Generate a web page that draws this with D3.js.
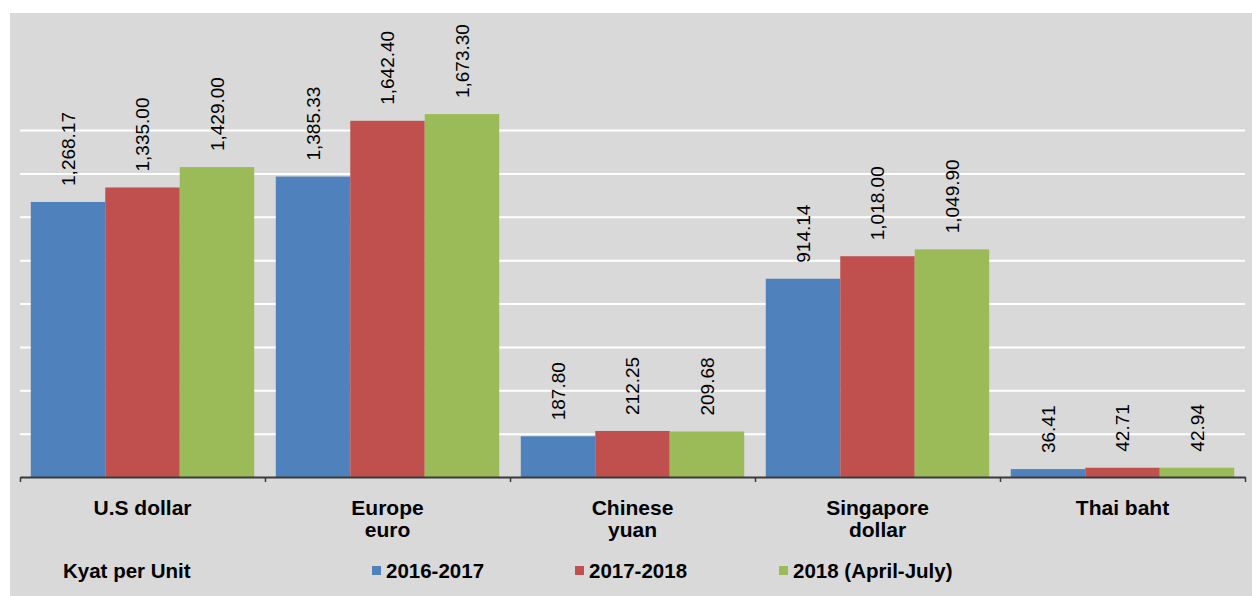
<!DOCTYPE html>
<html>
<head>
<meta charset="utf-8">
<script src="https://cdn.jsdelivr.net/npm/d3@7"></script>
<style>
  html, body { margin: 0; padding: 0; background: #ffffff; }
  svg { display: block; }
  text { font-family: "Liberation Sans", Arial, sans-serif; fill: #000; }
</style>
</head>
<body>
<svg id="chart" width="1252" height="596"></svg>
<script>
// ---- data ----
const categories = ["U.S dollar", "Europe\neuro", "Chinese\nyuan", "Singapore\ndollar", "Thai baht"];
const seriesNames = ["2016-2017", "2017-2018", "2018 (April-July)"];
const values2016_2017 = [1268.17, 1385.33, 187.80, 914.14, 36.41];
const values2017_2018 = [1335.00, 1642.40, 212.25, 1018.00, 42.71];
const values2018_AprJul = [1429.00, 1673.30, 209.68, 1049.90, 42.94];
const gridTicks = [200, 400, 600, 800, 1000, 1200, 1400, 1600];
const legendTitle = "Kyat per Unit";
const colors = ["#4f81bd", "#c0504d", "#9bbb59"];

const seriesValues = [values2016_2017, values2017_2018, values2018_AprJul];

const svg = d3.select("#chart");

// background panel
svg.append("rect").attr("x", 10).attr("y", 13).attr("width", 1242).attr("height", 583).attr("fill", "#d9d9d9");

const plotLeft = 20, plotRight = 1245, baseY = 477;

const x = d3.scaleBand().domain(categories).range([plotLeft, plotRight]).paddingInner(0).paddingOuter(0);
const x1 = d3.scaleBand().domain(seriesNames).range([0, x.bandwidth()]).paddingInner(0).paddingOuter(0.145);
const y = d3.scaleLinear().domain([0, 1600]).range([baseY, 130]);

// gridlines
const grid = svg.append("g").attr("transform", `translate(${plotLeft},0)`)
  .call(d3.axisLeft(y).tickValues(gridTicks).tickSize(-(plotRight - plotLeft)).tickFormat(""));
grid.select(".domain").remove();
grid.selectAll(".tick line").attr("stroke", "#ffffff").attr("stroke-width", 2);

// bars
const rows = categories.map((c, i) => ({ cat: c, vals: seriesNames.map((s, j) => ({ s, j, v: seriesValues[j][i] })) }));
const groups = svg.selectAll("g.cat").data(rows).join("g").attr("class", "cat")
  .attr("transform", d => `translate(${x(d.cat)},0)`);

groups.selectAll("rect").data(d => d.vals).join("rect")
  .attr("x", d => x1(d.s))
  .attr("y", d => y(d.v))
  .attr("width", x1.bandwidth())
  .attr("height", d => y(0) - y(d.v))
  .attr("fill", d => colors[d.j]);

const fmt = d3.format(",.2f");
groups.selectAll("text.val").data(d => d.vals).join("text").attr("class", "val")
  .attr("transform", d => `translate(${x1(d.s) + x1.bandwidth() / 2},${y(d.v) - 16}) rotate(-90)`)
  .attr("dy", "0.35em")
  .attr("text-anchor", "start")
  .style("font-size", "19px")
  .text(d => fmt(d.v));

// x axis with ticks at category boundaries
const boundary = d3.scaleLinear().domain([0, categories.length]).range([plotLeft, plotRight]);
const xAxis = svg.append("g").attr("transform", `translate(0,${baseY})`)
  .call(d3.axisBottom(boundary).ticks(categories.length).tickSize(5).tickSizeOuter(0).tickFormat(""));
xAxis.select(".domain").attr("stroke", "#3a3a3a").attr("stroke-width", 2);
xAxis.selectAll(".tick line").attr("stroke", "#3a3a3a").attr("stroke-width", 1.5);

// category labels
svg.selectAll("text.cat").data(categories).join("text").attr("class", "cat")
  .attr("x", d => x(d) + x.bandwidth() / 2)
  .attr("y", 515)
  .attr("text-anchor", "middle")
  .style("font-size", "21px").style("font-weight", "bold")
  .each(function (d) {
    const t = d3.select(this);
    d.split("\n").forEach((line, k) => {
      t.append("tspan").attr("x", x(d) + x.bandwidth() / 2).attr("dy", k === 0 ? 0 : 22).text(line);
    });
  });

// legend
svg.append("text").attr("x", 63).attr("y", 578)
  .style("font-size", "20.5px").style("font-weight", "bold").text(legendTitle);

const legendX = [372, 575, 779];
const leg = svg.selectAll("g.leg").data(seriesNames).join("g").attr("class", "leg")
  .attr("transform", (d, i) => `translate(${legendX[i]},578)`);
leg.append("rect").attr("x", 0).attr("y", -12).attr("width", 9).attr("height", 9).attr("fill", (d, i) => colors[i]);
leg.append("text").attr("x", 14).attr("y", 0)
  .style("font-size", "20.5px").style("font-weight", "bold").text(d => d);
</script>
</body>
</html>
